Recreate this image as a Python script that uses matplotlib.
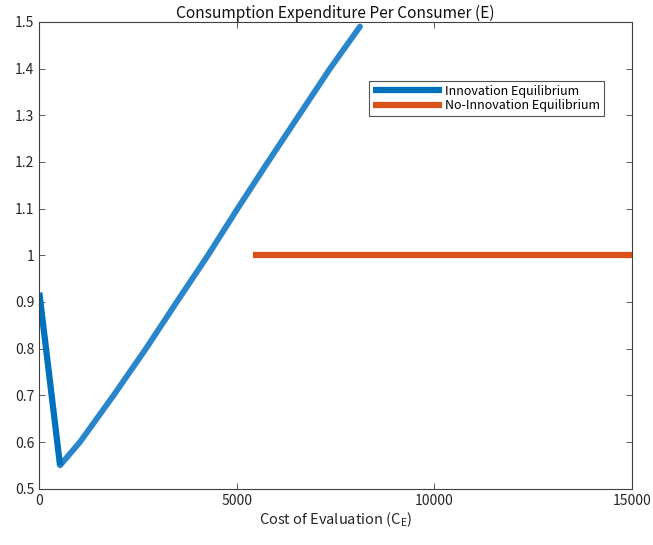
#%%
# Import
import numpy as np
import matplotlib.pyplot as plt

plt.rcParams['font.family'] = ['Noto Sans CJK JP', 'DejaVu Sans']
plt.rcParams['mathtext.fontset'] = 'custom'
plt.rcParams['mathtext.rm'] = 'Noto Sans CJK JP'
plt.rcParams['mathtext.it'] = 'Noto Sans CJK JP'


#%%
# Data

# innovation equilibrium: cost of evaluation vs expenditure
C_E_innov = [0, 525, 1030, 1880, 2700, 3480, 4270, 5020, 5790, 6575, 7360, 8120]
E_innov   = [0.92, 0.55, 0.60, 0.70, 0.80, 0.90, 1.00, 1.10, 1.20, 1.30, 1.40, 1.49]

# no-innovation equilibrium
C_E_noinnov = [5400, 15000]
E_noinnov   = [1.0, 1.0]

x_ticks = [0, 5000, 10000, 15000]
y_ticks = [0.5, 0.6, 0.7, 0.8, 0.9, 1.0, 1.1, 1.2, 1.3, 1.4, 1.5]


#%%
# Plot

fig = plt.figure(figsize=(6.53, 5.45), dpi=100)
ax = fig.add_axes([0.0602, 0.1033, 0.9072, 0.8565])

# falling branch is drawn solid, rising branch looks a bit lighter
ax.plot(C_E_innov[1:], E_innov[1:], '-', color='#2a86cb', lw=4.2,
        solid_capstyle='round', solid_joinstyle='round')
ax.plot(C_E_innov[:2], E_innov[:2], '-', color='#0072BD', lw=4.5,
        solid_capstyle='butt', label='Innovation Equilibrium')
ax.plot(C_E_noinnov, E_noinnov, '-', color='#D95319', lw=4.5,
        solid_capstyle='butt', label='No-Innovation Equilibrium')

ax.set_xlim(0, 15000)
ax.set_ylim(0.5, 1.5)
ax.set_xticks(x_ticks)
ax.set_yticks(y_ticks)
ax.set_xticklabels([str(t) for t in x_ticks])
ax.set_yticklabels(['%g' % t for t in y_ticks])

ax.tick_params(direction='in', top=True, right=True, length=4,
               width=0.6, colors='#404040', labelcolor='#262626', labelsize=10)
for s in ax.spines.values():
    s.set_color('#404040')
    s.set_linewidth(0.8)

ax.set_title('Consumption Expenditure Per Consumer (E)', fontsize=11.2,
             color='#111111', pad=3)
ax.set_xlabel(r'Cost of Evaluation (C$_{\mathrm{E}}$)', fontsize=10.5,
              color='#262626', labelpad=2)

leg = ax.legend(loc='upper left', bbox_to_anchor=(0.5566, 0.8734),
                fontsize=9, frameon=True, fancybox=False, handlelength=5.5,
                handletextpad=0.3, borderpad=0.3, labelspacing=0.1,
                borderaxespad=0)
leg.get_frame().set_edgecolor('#262626')
leg.get_frame().set_linewidth(0.8)

fig.savefig('out.png', dpi=100)
